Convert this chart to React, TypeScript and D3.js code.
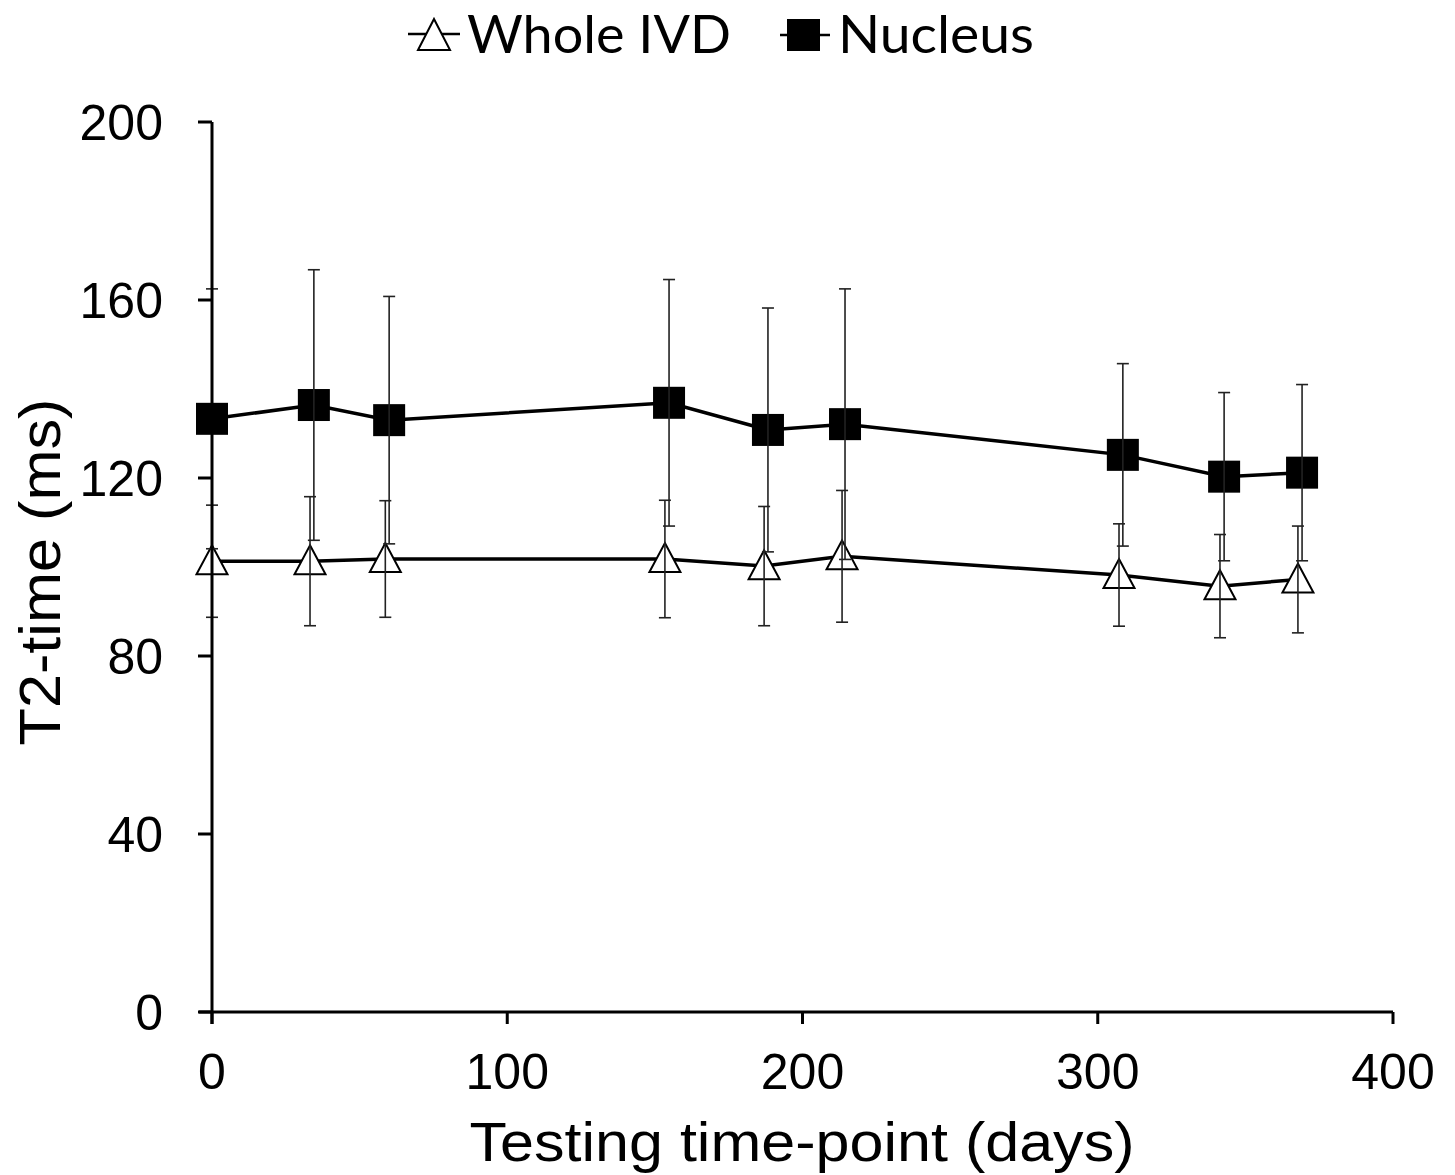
import React from "react";
import * as d3 from "d3";

const xTicks = [0, 100, 200, 300, 400];
const yTicks = [0, 40, 80, 120, 160, 200];

const nucleusDays = [0, 34.5, 60, 154.8, 188.3, 214.4, 308.5, 342.8, 369.2];
const nucleusMean = [133.3, 136.4, 133.0, 136.9, 130.8, 132.1, 125.2, 120.3, 121.2];
const nucleusSD = [29.2, 30.4, 27.8, 27.7, 27.4, 30.4, 20.5, 18.9, 19.8];

const wholeDays = [0, 33.2, 58.7, 153.4, 187.0, 213.4, 307.2, 341.4, 367.8];
const wholeMean = [101.3, 101.3, 101.8, 101.8, 100.2, 102.4, 98.2, 95.7, 97.2];
const wholeSD = [12.6, 14.5, 13.1, 13.2, 13.4, 14.8, 11.5, 11.6, 12.0];

const legendLabels = ["Whole IVD", "Nucleus"];
const xTitle = "Testing time-point (days)";
const yTitle = "T2-time (ms)";

export default function App() {
  const x = d3.scaleLinear().domain([0, 400]).range([212, 1393]);
  const y = d3.scaleLinear().domain([0, 200]).range([1012, 122]);
  const line = d3.line<[number, number]>().x((d) => x(d[0])).y((d) => y(d[1]));

  const nucleus = nucleusDays.map((d, i) => ({ d, m: nucleusMean[i], s: nucleusSD[i] }));
  const whole = wholeDays.map((d, i) => ({ d, m: wholeMean[i], s: wholeSD[i] }));

  const tri = (cx: number, cy: number, w: number, h: number) =>
    `M${cx},${cy - h * 0.55} L${cx + w / 2},${cy + h * 0.45} L${cx - w / 2},${cy + h * 0.45} Z`;

  const errBar = (px: number, lo: number, hi: number, key: string) => (
    <g key={key} stroke="#222" strokeWidth={1.6}>
      <line x1={px} x2={px} y1={y(hi)} y2={y(lo)} />
      <line x1={px - 6} x2={px + 6} y1={y(hi)} y2={y(hi)} />
      <line x1={px - 6} x2={px + 6} y1={y(lo)} y2={y(lo)} />
    </g>
  );

  const tickFont = "'Liberation Sans', Arial, sans-serif";
  const legendFont = "Lato, 'Open Sans', sans-serif";

  return (
    <svg width={1455} height={1175} style={{ position: "absolute", left: 0, top: 0, background: "#fff" }}>
      <rect width={1455} height={1175} fill="#fff" />
      {/* Legend */}
      <g>
        <line x1={408} x2={460} y1={34} y2={34} stroke="#000" strokeWidth={2.5} />
        <path d={tri(434, 36, 32, 31)} fill="#fff" stroke="#000" strokeWidth={2} />
        <text x={467} y={53} fontFamily={legendFont} fontSize={52} textLength={264} lengthAdjust="spacingAndGlyphs">{legendLabels[0]}</text>
        <line x1={780} x2={830} y1={35} y2={35} stroke="#000" strokeWidth={2.5} />
        <rect x={787} y={19} width={33} height={32} fill="#000" />
        <text x={838} y={53} fontFamily={legendFont} fontSize={52} textLength={196} lengthAdjust="spacingAndGlyphs">{legendLabels[1]}</text>
      </g>

      {/* Axes */}
      <g stroke="#000" strokeWidth={3}>
        <line x1={x(0) - 13} x2={x(400)} y1={y(0)} y2={y(0)} />
        {yTicks.map((t) => (
          <line key={"yt" + t} x1={x(0) - 14} x2={x(0)} y1={y(t)} y2={y(t)} />
        ))}
        {xTicks.map((t) => (
          <line key={"xt" + t} x1={x(t)} x2={x(t)} y1={y(0)} y2={y(0) + 12} />
        ))}
      </g>
      {yTicks.map((t) => (
        <text key={"yl" + t} x={163} y={y(t) + 18} textAnchor="end" fontFamily={tickFont} fontSize={50}>{t}</text>
      ))}
      {xTicks.map((t) => (
        <text key={"xl" + t} x={x(t)} y={1089} textAnchor="middle" fontFamily={tickFont} fontSize={50}>{t}</text>
      ))}
      <text x={802} y={1161} textAnchor="middle" fontFamily={tickFont} fontSize={56} textLength={665} lengthAdjust="spacingAndGlyphs">{xTitle}</text>
      <text transform="translate(60,572) rotate(-90)" textAnchor="middle" fontFamily={tickFont} fontSize={58} textLength={347} lengthAdjust="spacingAndGlyphs">{yTitle}</text>

      {/* Lines */}
      <path d={line(whole.map((p) => [p.d, p.m]) as [number, number][]) || ""} fill="none" stroke="#000" strokeWidth={3.5} />
      <path d={line(nucleus.map((p) => [p.d, p.m]) as [number, number][]) || ""} fill="none" stroke="#000" strokeWidth={3.5} />

      {/* Markers */}
      {whole.map((p, i) => (
        <path key={"wm" + i} d={tri(x(p.d), y(p.m), 31, 29)} fill="#fff" stroke="#000" strokeWidth={2} />
      ))}
      {nucleus.map((p, i) => (
        <rect key={"nm" + i} x={x(p.d) - 16} y={y(p.m) - 16} width={32} height={32} fill="#000" />
      ))}

      {/* Error bars */}
      {whole.map((p, i) => errBar(x(p.d), p.m - p.s, p.m + p.s, "we" + i))}
      {nucleus.map((p, i) => errBar(x(p.d), p.m - p.s, p.m + p.s, "ne" + i))}

      {/* y axis on top */}
      <line x1={x(0)} x2={x(0)} y1={y(200)} y2={y(0) + 12} stroke="#000" strokeWidth={3} />
    </svg>
  );
}
